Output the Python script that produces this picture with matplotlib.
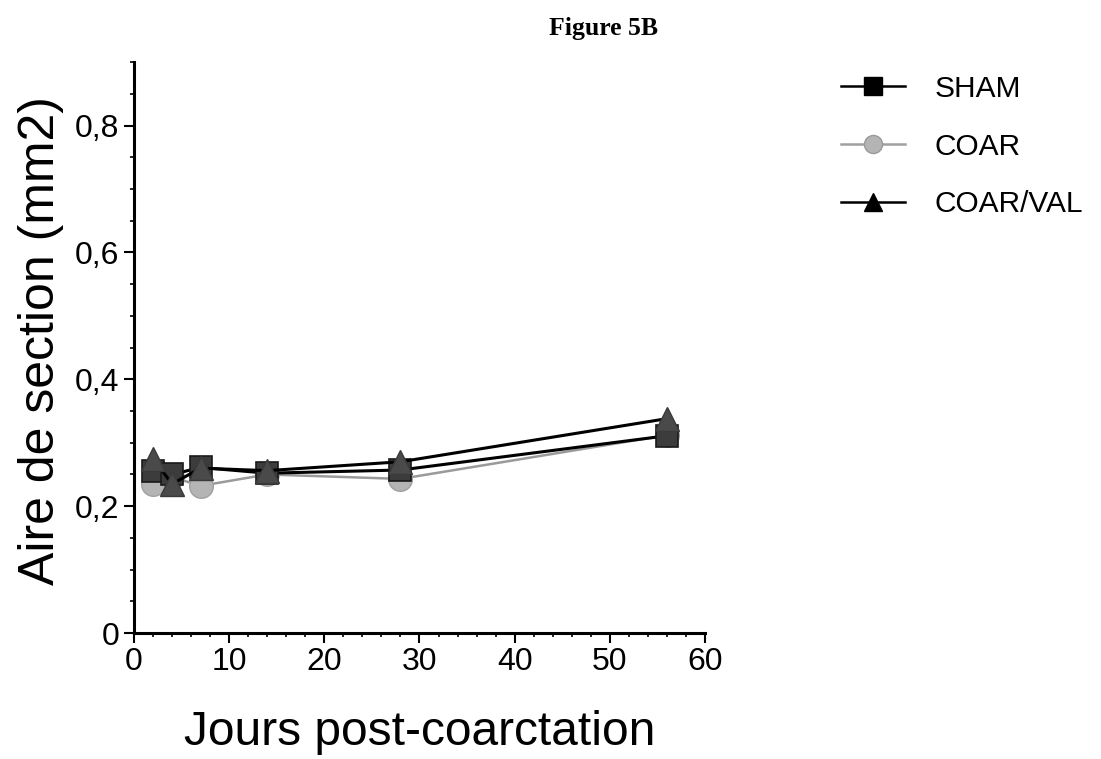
import numpy as np
import matplotlib.pyplot as plt
from matplotlib.ticker import MultipleLocator, FuncFormatter

plt.rcParams['font.family'] = ['Liberation Sans', 'DejaVu Sans']

# Days post-coarctation
days = [2, 4, 7, 14, 28, 56]

# Cross-section area (mm2) per group
sham = [0.255, 0.25, 0.261, 0.252, 0.257, 0.311]
coar = [0.235, 0.246, 0.232, 0.250, 0.243, 0.312]
coar_val = [0.275, 0.235, 0.260, 0.256, 0.270, 0.338]

fig = plt.figure(figsize=(11.01, 7.59), dpi=100)
ax = fig.add_axes([0.1217, 0.166, 0.5186, 0.752])

# Plot series
l_coar, = ax.plot(days, coar, color='#9a9a9a', lw=1.8, marker='o', ms=17,
                  mfc='#b4b4b4', mec='#a0a0a0', mew=1, zorder=2)
l_sham, = ax.plot(days, sham, color='black', lw=2.2, marker='s', ms=16,
                  mfc='#3c3c3c', mec='#1a1a1a', mew=1.2, zorder=3)
l_val, = ax.plot(days, coar_val, color='black', lw=2.2, marker='^', ms=17,
                 mfc='#4a4a4a', mec='#3a3a3a', mew=1, zorder=4)

ax.set_xlim(0, 60)
ax.set_ylim(0, 0.9)
ax.xaxis.set_major_locator(MultipleLocator(10))
ax.xaxis.set_minor_locator(MultipleLocator(2))
ax.yaxis.set_major_locator(MultipleLocator(0.2))
ax.yaxis.set_minor_locator(MultipleLocator(0.05))
ax.yaxis.set_major_formatter(FuncFormatter(
    lambda v, p: '0' if abs(v) < 1e-9 else ('%.1f' % v).replace('.', ',')))

for s in ['top', 'right']:
    ax.spines[s].set_visible(False)
for s in ['left', 'bottom']:
    ax.spines[s].set_linewidth(2.2)

ax.tick_params(which='major', length=7, width=1.5, labelsize=23, direction='out')
ax.tick_params(which='minor', length=3, width=1.2, direction='out')
ax.tick_params(axis='x', pad=3)

ax.set_xlabel('Jours post-coarctation', fontsize=34.5, labelpad=24)
ax.set_ylabel('Aire de section (mm2)', fontsize=36)
ax.yaxis.set_label_coords(-0.122, 0.513)

fig.text(0.548, 0.962, 'Figure 5B', fontsize=18.5, fontweight='bold',
         family='Liberation Serif', ha='center', va='center')

# Legend handles
h_sham, = ax.plot([], [], color='black', lw=1.8, marker='s', ms=13,
                  mfc='black', mec='black')
h_coar, = ax.plot([], [], color='#a0a0a0', lw=1.8, marker='o', ms=13,
                  mfc='#b4b4b4', mec='#9a9a9a')
h_val, = ax.plot([], [], color='black', lw=1.8, marker='^', ms=13,
                 mfc='black', mec='black')
fig.legend([h_sham, h_coar, h_val], ['SHAM', 'COAR', 'COAR/VAL'],
           loc='upper left', bbox_to_anchor=(0.739, 0.937), frameon=False,
           fontsize=21.5, handlelength=2.15, labelspacing=1.0, handletextpad=1.0)

fig.savefig('out.png', dpi=100)
